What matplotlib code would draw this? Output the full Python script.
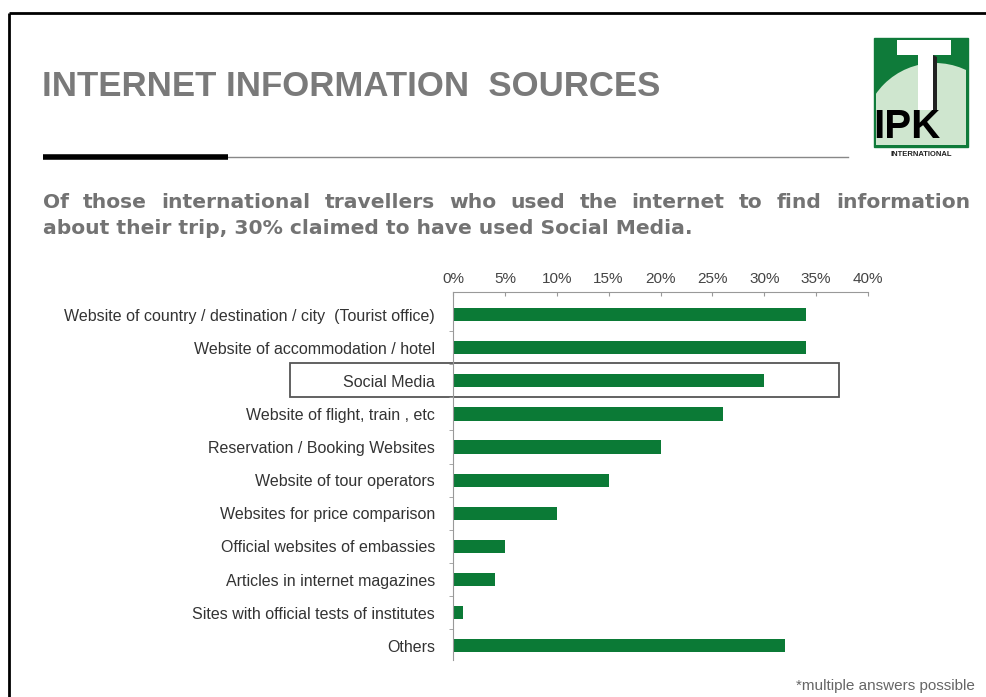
import matplotlib
matplotlib.use("Agg")
import matplotlib.pyplot as plt
from matplotlib.patches import Rectangle, Circle, Polygon
import numpy as np

plt.rcParams['font.family'] = ['Liberation Sans', 'DejaVu Sans']

categories = [
    "Website of country / destination / city  (Tourist office)",
    "Website of accommodation / hotel",
    "Social Media",
    "Website of flight, train , etc",
    "Reservation / Booking Websites",
    "Website of tour operators",
    "Websites for price comparison",
    "Official websites of embassies",
    "Articles in internet magazines",
    "Sites with official tests of institutes",
    "Others",
]
values = [34, 34, 30, 26, 20, 15, 10, 5, 4, 1, 32]
xticks = [0, 5, 10, 15, 20, 25, 30, 35, 40]
xtick_labels = ["0%", "5%", "10%", "15%", "20%", "25%", "30%", "35%", "40%"]

title = "INTERNET INFORMATION  SOURCES"
subtitle_line1 = "Of those international travellers who used the internet to find information"
subtitle_line2 = "about their trip, 30% claimed to have used Social Media."
footnote = "*multiple answers possible"

W, H = 986, 697
fig = plt.figure(figsize=(W / 100, H / 100), dpi=100)
fig.patch.set_facecolor("white")

# overlay axes in pixel coords for decorations
ov = fig.add_axes([0, 0, 1, 1])
ov.set_xlim(0, W)
ov.set_ylim(H, 0)
ov.axis("off")

# bar axes
x0, x1, yt, yb = 453, 868, 292, 660
ax = fig.add_axes([x0 / W, 1 - yb / H, (x1 - x0) / W, (yb - yt) / H])
ypos = np.arange(len(categories))
ax.barh(ypos, values, height=0.4, color="#0b7a36", edgecolor="none")
ax.set_xlim(0, 40)
ax.set_ylim(10.43, -0.68)
ax.xaxis.tick_top()
ax.set_xticks(xticks)
ax.set_xticklabels(xtick_labels, fontsize=11, color="#444444")
ax.tick_params(axis="x", direction="in", length=3, color="#999999", pad=4)
ax.set_yticks(ypos)
ax.set_yticklabels(categories, fontsize=11.5, color="#333333")
ax.tick_params(axis="y", length=0, pad=13)
ax.set_yticks(np.arange(0.5, len(categories) - 0.5, 1), minor=True)
ax.tick_params(axis="y", which="minor", direction="out", length=3, color="#999999")
for s in ["right", "bottom"]:
    ax.spines[s].set_visible(False)
for s in ["top", "left"]:
    ax.spines[s].set_color("#999999")
    ax.spines[s].set_linewidth(0.8)
ax.set_facecolor("none")

# frame
ov.plot([9, W], [13, 13], color="black", lw=2, solid_capstyle="butt")
ov.plot([9, 9], [13, H], color="black", lw=2, solid_capstyle="butt")

# title
ov.text(42, 87, title, fontsize=25, fontweight="bold", color="#7a7a7a",
        ha="left", va="center")

# rule
ov.plot([228, 848], [157, 157], color="#888888", lw=1)
ov.plot([43, 228], [157, 157], color="black", lw=4, solid_capstyle="butt")

# subtitle (justified line 1)
fig.canvas.draw()
renderer = fig.canvas.get_renderer()
words = subtitle_line1.split(" ")
sub_kw = dict(fontsize=14.6, fontweight="bold", color="#737373", va="center", ha="left",
              family=["DejaVu Sans"])
tmp = [ov.text(0, 0, w, **sub_kw) for w in words]
widths = [t.get_window_extent(renderer).width for t in tmp]
for t in tmp:
    t.remove()
left, right = 43, 970
gap = (right - left - sum(widths)) / (len(words) - 1)
xx = left
for w, wd in zip(words, widths):
    ov.text(xx, 202, w, **sub_kw)
    xx += wd + gap
ov.text(left, 229, subtitle_line2, **sub_kw)

# highlight box around Social Media
ov.add_patch(Rectangle((290, 363), 839 - 290, 397 - 363, fill=False,
                       edgecolor="#555555", lw=1.3))

# footnote
ov.text(975, 686, footnote, fontsize=11, color="#666666", ha="right", va="center")

# logo
lx0, lx1, ly0, ly1 = 874, 968, 38, 147
ov.add_patch(Rectangle((lx0, ly0), lx1 - lx0, ly1 - ly0, facecolor="#0f7b3a",
                       edgecolor="#0f7b3a", lw=1))
globe = Circle((935, 135), 72, facecolor="#cfe6cf", edgecolor="none")
ov.add_patch(globe)
globe.set_clip_path(Rectangle((lx0 + 2, ly0 + 2), lx1 - lx0 - 4, ly1 - ly0 - 4,
                              transform=ov.transData))
# T shape
ov.add_patch(Polygon([[897, 40], [951, 40], [951, 55], [933, 55], [933, 110],
                      [918, 110], [918, 55], [897, 55]], closed=True,
                     facecolor="white", edgecolor="none"))
ov.add_patch(Polygon([[933, 55], [937, 57], [937, 112], [933, 110]], closed=True,
                     facecolor="#222222", edgecolor="none"))
ov.text(873, 127, "IPK", fontsize=29, fontweight="bold", color="black",
        ha="left", va="center")
ov.text(921, 155, "INTERNATIONAL", fontsize=5.5, fontweight="bold", color="#222222",
        ha="center", va="center")

fig.savefig("out.png", dpi=100, facecolor="white")
